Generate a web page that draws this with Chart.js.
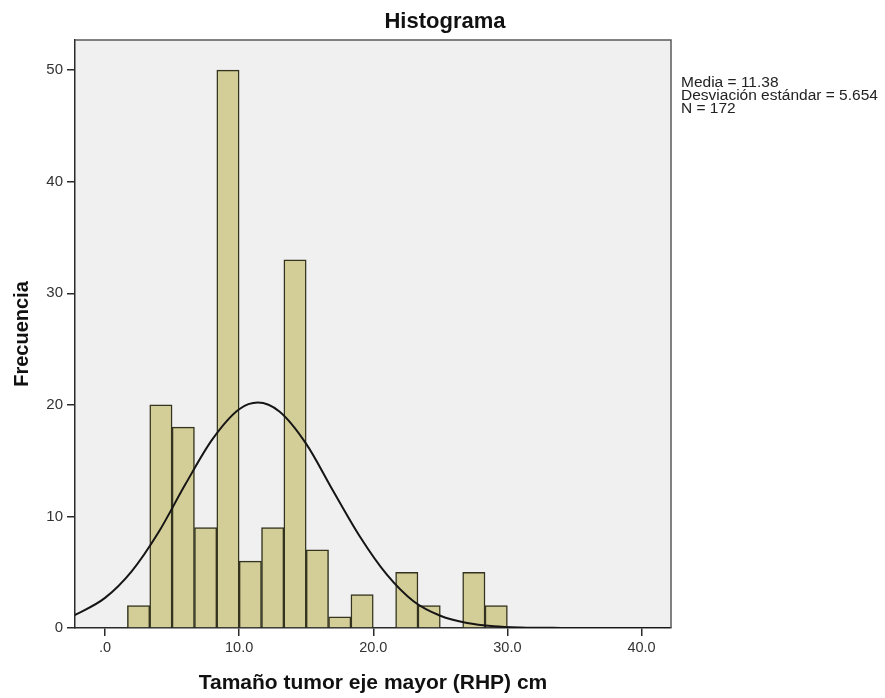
<!DOCTYPE html>
<html>
<head>
<meta charset="utf-8">
<script src="https://cdn.jsdelivr.net/npm/chart.js@4.4.1/dist/chart.umd.min.js"></script>
<style>
  body { margin: 0; background: #fff; }
  #wrap { width: 885px; height: 698px; }
</style>
</head>
<body>
<div id="wrap"><canvas id="histChart" width="885" height="698"></canvas></div>
<script>
    // histogram bins (start of each bin, width 5/3 cm) and counts
    const binWidth = 5 / 3;
    const binStarts = [1.667, 3.333, 5.0, 6.667, 8.333, 10.0, 11.667, 13.333, 15.0, 16.667, 18.333, 20.0, 21.667, 23.333, 25.0, 26.667, 28.333];
    const counts = [2, 20, 18, 9, 50, 6, 9, 33, 7, 1, 3, 0, 5, 2, 0, 5, 2];

    // normal curve
    const curveX = [-2.5, 0, 2, 4, 6, 8, 10, 11.4, 13, 15, 17, 19, 21, 23, 25, 27, 29, 31, 34, 38, 43];
    const curveY = [1.0, 2.7, 5.1, 8.6, 12.9, 16.9, 19.6, 20.2, 19.4, 16.5, 12.3, 8.2, 4.8, 2.4, 1.1, 0.45, 0.16, 0.05, 0.01, 0, 0];

    const xTicks = [0, 10, 20, 30, 40];
    const statLines = ['Media = 11.38', 'Desviación estándar = 5.654', 'N = 172'];

    const ink = '#2a2a2a';
    const font = 'Liberation Sans, Arial, sans-serif';

    const decorPlugin = {
      id: 'decor',
      beforeDraw(chart) {
        const { ctx, chartArea: a } = chart;
        ctx.save();
        ctx.fillStyle = '#f0f0f0';
        ctx.fillRect(a.left, a.top, a.right - a.left, a.bottom - a.top);
        ctx.restore();
      },
      afterDraw(chart) {
        const { ctx, chartArea: a } = chart;
        ctx.save();
        ctx.strokeStyle = '#5a5a5a';
        ctx.lineWidth = 1.5;
        ctx.beginPath();
        ctx.moveTo(a.left, a.top);
        ctx.lineTo(a.right, a.top);
        ctx.lineTo(a.right, a.bottom);
        ctx.stroke();

        ctx.fillStyle = '#111';
        ctx.font = 'bold 22px ' + font;
        ctx.textAlign = 'center';
        ctx.textBaseline = 'alphabetic';
        ctx.fillText('Histograma', 445, 28);

        ctx.fillStyle = '#222';
        ctx.font = '15.5px ' + font;
        ctx.textAlign = 'left';
        statLines.forEach((t, i) => ctx.fillText(t, 681, 87 + i * 13.2));
        ctx.restore();
      }
    };

    const ctx = document.getElementById('histChart').getContext('2d');
    const chart = new Chart(ctx, {
      type: 'bar',
      data: {
        datasets: [
          {
            type: 'line',
            data: curveX.map((x, i) => ({ x, y: curveY[i] })),
            borderColor: '#151515',
            borderWidth: 2,
            pointRadius: 0,
            cubicInterpolationMode: 'monotone',
            fill: false,
            order: 0
          },
          {
            type: 'bar',
            data: binStarts.map((s, i) => ({ x: s + binWidth / 2, y: counts[i] })),
            backgroundColor: '#d3ce97',
            borderColor: '#34331f',
            borderWidth: 1.5,
            borderSkipped: 'start',
            barPercentage: 1,
            categoryPercentage: 1,
            order: 1
          }
        ]
      },
      options: {
        responsive: false,
        animation: false,
        layout: { padding: { top: 40, right: 214, bottom: 0, left: 0 } },
        plugins: {
          legend: { display: false },
          tooltip: { enabled: false }
        },
        scales: {
          x: {
            type: 'linear',
            min: -2.24,
            max: 42.2,
            offset: false,
            afterFit(scale) { scale.height = 70; },
            afterBuildTicks(scale) { scale.ticks = xTicks.map(v => ({ value: v })); },
            grid: { offset: false, drawOnChartArea: false, drawTicks: true, tickLength: 8, color: ink, lineWidth: 1.5 },
            border: { display: true, color: ink, width: 1.5 },
            ticks: {
              padding: 3,
              color: '#333',
              font: { family: font, size: 14.5 },
              callback: v => v === 0 ? '.0' : v.toFixed(1)
            },
            title: {
              display: true,
              text: 'Tamaño tumor eje mayor (RHP) cm',
              color: '#111',
              font: { family: font, size: 21, weight: 'bold' },
              padding: { top: 0, bottom: 2 }
            }
          },
          y: {
            min: 0,
            max: 52.7,
            afterFit(scale) { scale.width = 75; },
            grid: { drawOnChartArea: false, drawTicks: true, tickLength: 8, color: ink, lineWidth: 1.5 },
            border: { display: true, color: ink, width: 1.5 },
            ticks: {
              stepSize: 10,
              includeBounds: false,
              padding: 4,
              color: '#333',
              font: { family: font, size: 15 }
            },
            title: {
              display: true,
              text: 'Frecuencia',
              color: '#111',
              font: { family: font, size: 20, weight: 'bold' },
              padding: { top: 10, bottom: 0 }
            }
          }
        }
      },
      plugins: [decorPlugin]
    });
</script>
</body>
</html>
